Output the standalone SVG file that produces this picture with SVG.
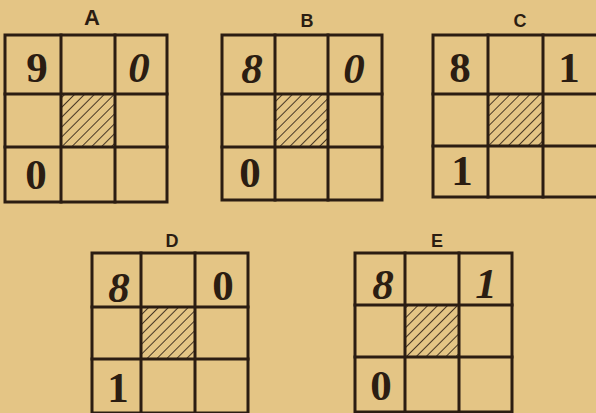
<svg xmlns="http://www.w3.org/2000/svg" width="596" height="413" viewBox="0 0 596 413">
<defs>
<pattern id="hatch" patternUnits="userSpaceOnUse" width="7" height="7" patternTransform="rotate(45)">
<line x1="0" y1="0" x2="0" y2="7" stroke="#2b1d12" stroke-width="1.7"/>
</pattern>
</defs>
<style>
.bg{fill:#e4c585}
.grid{fill:none;stroke:#2b1d12;stroke-width:3;stroke-linecap:square}
.hatch{fill:url(#hatch)}
.lbl{font-family:"Liberation Sans","DejaVu Sans",sans-serif;font-weight:bold;fill:#2b1d12;text-anchor:middle}
.dig{font-family:"Liberation Serif","DejaVu Serif",serif;font-weight:bold;font-size:43px;fill:#2b1d12;text-anchor:middle}
</style>
<rect class="bg" x="0" y="0" width="596" height="413"/>

<g id="gridA">
<rect class="hatch" x="61" y="94" width="54" height="53"/>
<rect class="grid" x="5" y="35" width="162" height="167"/>
<path class="grid" d="M61 35V202M115 35V202M5 94H167M5 147H167"/>
<text class="lbl" x="92" y="25" font-size="22">A</text>
<text class="dig" x="37" y="82">9</text>
<text class="dig" x="139" y="82" font-style="italic">0</text>
<text class="dig" x="36" y="189">0</text>
</g>

<g id="gridB">
<rect class="hatch" x="275" y="94" width="53" height="53"/>
<rect class="grid" x="222" y="35" width="160" height="165"/>
<path class="grid" d="M275 35V200M328 35V200M222 94H382M222 147H382"/>
<text class="lbl" x="307" y="27" font-size="18">B</text>
<text class="dig" x="252" y="83" font-style="italic">8</text>
<text class="dig" x="354" y="83" font-style="italic">0</text>
<text class="dig" x="250" y="187">0</text>
</g>

<g id="gridC">
<rect class="hatch" x="488" y="94" width="55" height="52"/>
<rect class="grid" x="433" y="35" width="165" height="162"/>
<path class="grid" d="M488 35V197M543 35V197M433 94H598M433 146H598"/>
<text class="lbl" x="520" y="27" font-size="18">C</text>
<text class="dig" x="460" y="82">8</text>
<text class="dig" x="569" y="82" font-size="34">1</text>
<text class="dig" x="462" y="185" font-size="34">1</text>
</g>

<g id="gridD">
<rect class="hatch" x="141" y="307" width="54" height="52"/>
<rect class="grid" x="92" y="253" width="156" height="160"/>
<path class="grid" d="M141 253V413M195 253V413M92 307H248M92 359H248"/>
<text class="lbl" x="172" y="247" font-size="18">D</text>
<text class="dig" x="119" y="302" font-style="italic">8</text>
<text class="dig" x="223" y="300">0</text>
<text class="dig" x="118" y="402">1</text>
</g>

<g id="gridE">
<rect class="hatch" x="405" y="305" width="54" height="52"/>
<rect class="grid" x="355" y="253" width="157" height="159"/>
<path class="grid" d="M405 253V412M459 253V412M355 305H512M355 357H512"/>
<text class="lbl" x="437" y="247" font-size="18">E</text>
<text class="dig" x="383" y="299" font-style="italic">8</text>
<text class="dig" x="486" y="298" font-style="italic">1</text>
<text class="dig" x="381" y="400">0</text>
</g>
</svg>
